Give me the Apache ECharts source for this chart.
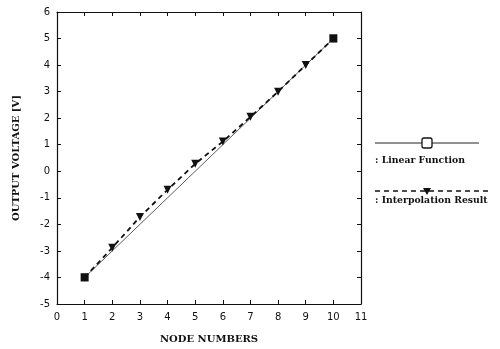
<!DOCTYPE html>
<html><head><meta charset="utf-8">
<script src="https://cdn.jsdelivr.net/npm/echarts@6/dist/echarts.min.js"></script>
<style>html,body{margin:0;padding:0;background:#fff}#c{width:500px;height:349px}</style>
</head><body><div id="c"></div>
<script>
var nodes = [1, 2, 3, 4, 5, 6, 7, 8, 9, 10];
var interpolation = [-4, -2.88, -1.72, -0.7, 0.28, 1.12, 2.05, 3.0, 4.0, 5.0];
var linearX = [1, 10];
var linearY = [-4, 5];
var xTicks = [0, 11, 1];
var yTicks = [-5, 6, 1];
var xName = 'NODE NUMBERS';
var yName = 'OUTPUT VOLTAGE [V]';
var legendNames = [': Linear Function', ': Interpolation Result'];

var chart = echarts.init(document.getElementById('c'), null, {renderer: 'canvas'});
var tickFont = {color: '#111', fontSize: 10, fontFamily: 'DejaVu Sans'};
var nameFont = {color: '#111', fontSize: 10, fontWeight: 'bold', fontFamily: 'DejaVu Serif'};
function axisBase(pos, show) {
  return {
    type: 'value', position: pos,
    axisLine: {show: true, onZero: false, lineStyle: {color: '#111', width: 1.2}},
    axisTick: {show: true, inside: true, length: 4, lineStyle: {color: '#111', width: 1}},
    axisLabel: {show: show},
    splitLine: {show: false}
  };
}
var xa = axisBase('bottom', true);
xa.min = xTicks[0]; xa.max = xTicks[1]; xa.interval = xTicks[2];
xa.axisLabel = Object.assign({show: true, margin: 8}, tickFont);
xa.name = xName; xa.nameLocation = 'middle'; xa.nameGap = 30; xa.nameTextStyle = nameFont;
var xb = axisBase('top', false);
xb.min = xTicks[0]; xb.max = xTicks[1]; xb.interval = xTicks[2];
var ya = axisBase('left', true);
ya.min = yTicks[0]; ya.max = yTicks[1]; ya.interval = yTicks[2];
ya.axisLabel = Object.assign({show: true, margin: 7}, tickFont);
ya.name = yName; ya.nameLocation = 'middle'; ya.nameGap = 36; ya.nameTextStyle = nameFont;
var yb = axisBase('right', false);
yb.min = yTicks[0]; yb.max = yTicks[1]; yb.interval = yTicks[2];

var L1y = 143, L2y = 191, Lx0 = 375, Lx1 = 479, Lx2 = 492, Lmid = 427;
var legFont = 'bold 9.3px "DejaVu Serif"';
chart.setOption({
  animation: false,
  grid: {left: 57, right: 139, top: 12, bottom: 43},
  xAxis: [xa, xb],
  yAxis: [ya, yb],
  series: [
    {
      name: legendNames[0], type: 'line', xAxisIndex: 0, yAxisIndex: 0,
      data: linearX.map(function (x, i) { return [x, linearY[i]]; }),
      symbol: 'rect', symbolSize: 8, showAllSymbol: true,
      lineStyle: {color: '#333', width: 0.8},
      itemStyle: {color: '#111'}
    },
    {
      name: legendNames[1], type: 'line', xAxisIndex: 0, yAxisIndex: 0,
      data: nodes.map(function (x, i) { return [x, interpolation[i]]; }),
      symbol: 'triangle', symbolRotate: 180, symbolSize: 8, showAllSymbol: true,
      lineStyle: {color: '#111', width: 1.8, type: [5, 4]},
      itemStyle: {color: '#111'}
    }
  ],
  graphic: [
    {type: 'line', shape: {x1: Lx0, y1: L1y, x2: Lx1, y2: L1y}, style: {stroke: '#222', lineWidth: 1}},
    {type: 'rect', shape: {x: Lmid - 5, y: L1y - 5, width: 10, height: 10, r: 2}, style: {fill: '#fff', stroke: '#111', lineWidth: 1.3}},
    {type: 'text', left: Lx0, top: L1y + 13, style: {text: legendNames[0], fill: '#111', font: legFont}},
    {type: 'line', shape: {x1: Lx0, y1: L2y, x2: Lx2, y2: L2y}, style: {stroke: '#111', lineWidth: 1.5, lineDash: [5, 4]}},
    {type: 'polygon', shape: {points: [[Lmid - 4, L2y - 3], [Lmid + 4, L2y - 3], [Lmid, L2y + 4]]}, style: {fill: '#111'}},
    {type: 'text', left: Lx0, top: L2y + 5, style: {text: legendNames[1], fill: '#111', font: legFont}}
  ]
});
</script></body></html>
